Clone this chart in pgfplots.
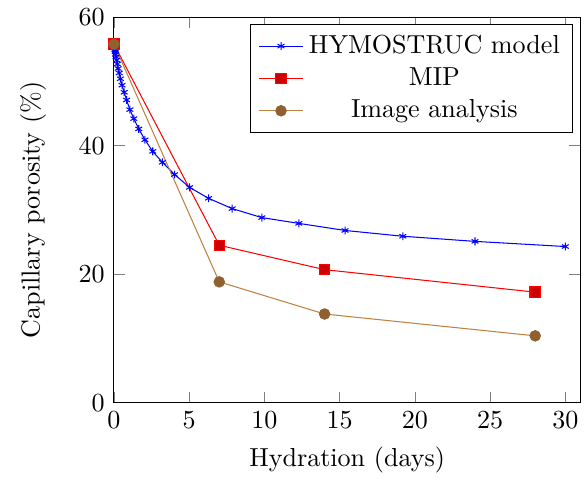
\documentclass[border=0pt]{standalone}
\usepackage{pgfplots}
\pgfplotsset{compat=1.18}

\begin{document}
\begin{tikzpicture}
\begin{axis}[
  scale only axis,
  width=179pt, height=148pt,
  xmin=0, xmax=31,
  ymin=0, ymax=60,
  xtick={0,5,...,30},
  ytick={0,20,40,60},
  xlabel={Hydration (days)},
  ylabel={Capillary porosity (\%)},
  ylabel style={yshift=5.6pt},
  legend cell align=center,
  legend style={at={(0.985,0.982)}, anchor=north east},
]
% HYMOSTRUC simulation output
\addplot[blue, mark=asterisk, mark size=1.5pt] coordinates {
  (0,55.8) (0.045,55.4) (0.06,55.2) (0.07,54.9) (0.09,54.6) (0.11,54.2)
  (0.14,53.8) (0.18,53.3) (0.22,52.7) (0.28,52.0) (0.35,51.3) (0.43,50.4)
  (0.54,49.4) (0.68,48.3) (0.84,47.1) (1.06,45.6) (1.32,44.2) (1.65,42.6)
  (2.06,40.9) (2.58,39.1) (3.22,37.4) (4.03,35.5) (5.03,33.5) (6.29,31.8)
  (7.86,30.2) (9.83,28.8) (12.29,27.9) (15.36,26.8) (19.2,25.9) (24,25.1)
  (30,24.3)
};
\addlegendentry{HYMOSTRUC model}
% Mercury intrusion porosimetry
\addplot[red, mark=square*, mark options={fill=red!80!black}] coordinates {
  (0,55.8) (7,24.5) (14,20.7) (28,17.2)
};
\addlegendentry{MIP}
% Image analysis
\addplot[brown, mark=*, mark options={draw=brown!75!black, fill=brown!75!black}] coordinates {
  (0,55.8) (7,18.8) (14,13.8) (28,10.4)
};
\addlegendentry{Image analysis}
\end{axis}
% white margin on the left of the figure
\path (current bounding box.south west) ++(-4.4pt,0pt) coordinate (m1);
\path (m1);
\end{tikzpicture}
\end{document}
